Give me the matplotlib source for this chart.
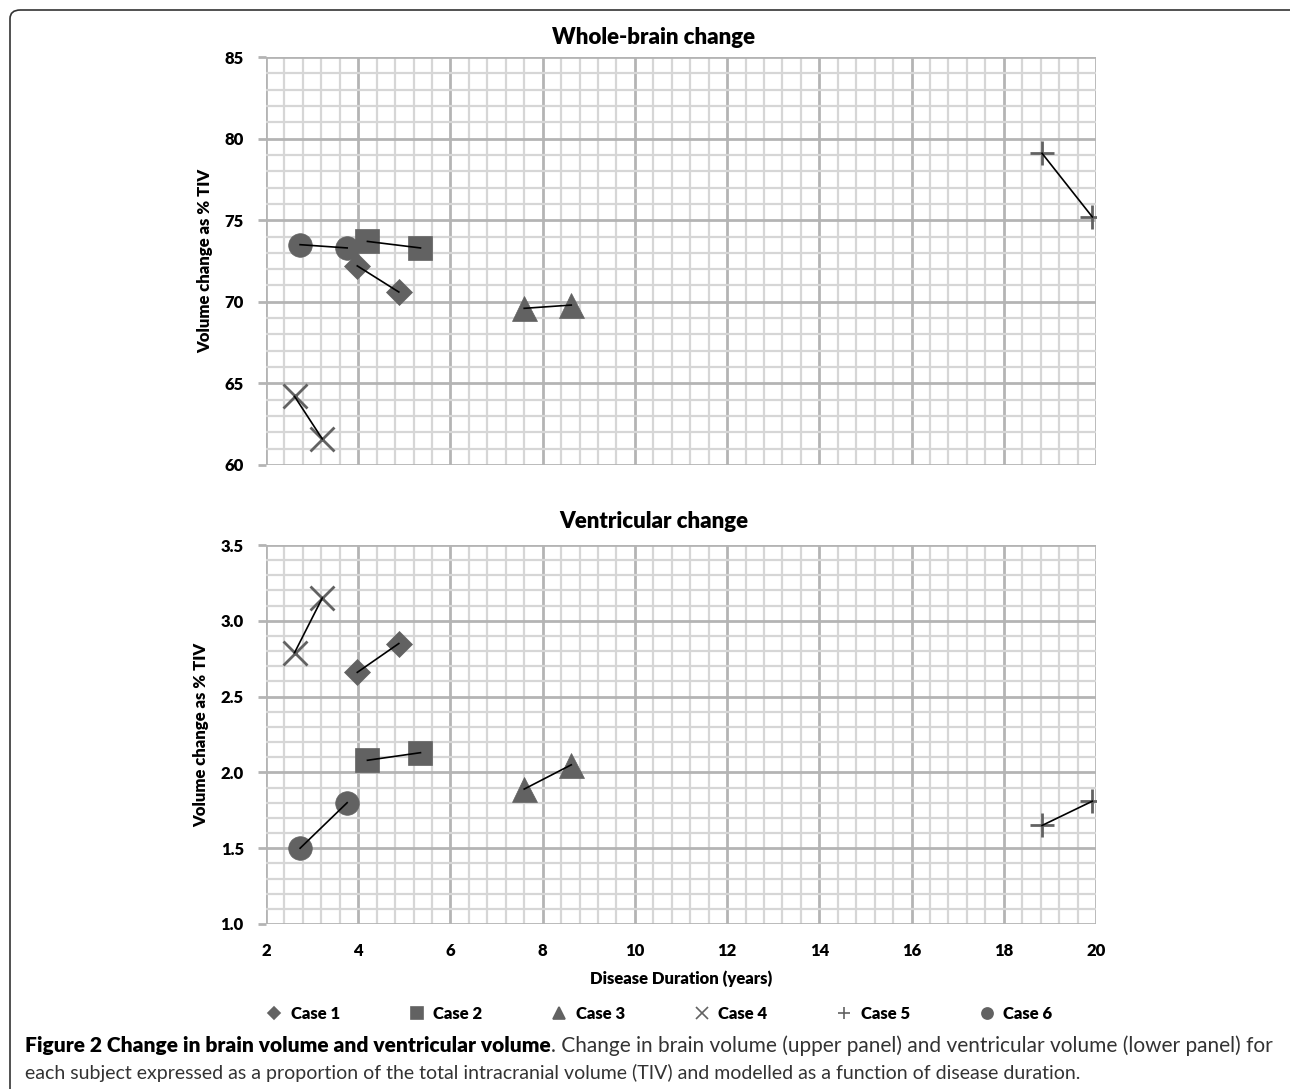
import matplotlib
matplotlib.use("Agg")
import matplotlib.pyplot as plt
from matplotlib.patches import FancyBboxPatch
from matplotlib.lines import Line2D
from matplotlib.ticker import MultipleLocator

plt.rcParams["font.family"] = ["Lato", "DejaVu Sans"]
plt.rcParams["font.weight"] = "heavy"
plt.rcParams["axes.labelweight"] = "heavy"

# disease duration (years), two time points per case
cases = ["Case 1", "Case 2", "Case 3", "Case 4", "Case 5", "Case 6"]
duration = {
    "Case 1": [3.98, 4.88],
    "Case 2": [4.20, 5.35],
    "Case 3": [7.60, 8.62],
    "Case 4": [2.62, 3.22],
    "Case 5": [18.83, 19.92],
    "Case 6": [2.74, 3.76],
}
# whole-brain volume as % TIV
brain = {
    "Case 1": [72.2, 70.6],
    "Case 2": [73.7, 73.3],
    "Case 3": [69.6, 69.8],
    "Case 4": [64.2, 61.6],
    "Case 5": [79.1, 75.2],
    "Case 6": [73.5, 73.3],
}
# ventricular volume as % TIV
ventricle = {
    "Case 1": [2.66, 2.85],
    "Case 2": [2.08, 2.13],
    "Case 3": [1.89, 2.05],
    "Case 4": [2.79, 3.15],
    "Case 5": [1.65, 1.81],
    "Case 6": [1.50, 1.80],
}

markers = {"Case 1": "D", "Case 2": "s", "Case 3": "^",
           "Case 4": "x", "Case 5": "+", "Case 6": "o"}
msize = {"Case 1": 13, "Case 2": 17, "Case 3": 18,
         "Case 4": 17, "Case 5": 17, "Case 6": 17}
mcolor = "#626262"

W, H = 1290, 1089
fig = plt.figure(figsize=(W / 100, H / 100), dpi=100)

# frame around figure
fig.patches.append(FancyBboxPatch((10 / W, -0.05), 1.2, 1 - 10 / H + 0.05,
                                  boxstyle="round,pad=0,rounding_size=0.008",
                                  transform=fig.transFigure, fill=False,
                                  edgecolor="#333333", linewidth=1.2))


def panel(ax, data, title, title_y, ylim, major, minor, fmt):
    for c in cases:
        ax.plot(duration[c], data[c], linestyle="none", marker=markers[c],
                ms=msize[c], color=mcolor, mec=mcolor,
                mew=2.0 if markers[c] in "x+" else 0.5, zorder=3)
        ax.plot(duration[c], data[c], color="black", lw=1.2, zorder=4)
    ax.set_xlim(2, 20)
    ax.set_ylim(*ylim)
    ax.xaxis.set_major_locator(MultipleLocator(2))
    ax.xaxis.set_minor_locator(MultipleLocator(0.4))
    ax.yaxis.set_major_locator(MultipleLocator(major))
    ax.yaxis.set_minor_locator(MultipleLocator(minor))
    ax.yaxis.set_major_formatter(fmt)
    ax.grid(which="major", color="#b4b4b4", lw=2.0)
    ax.grid(which="minor", color="#d6d6d6", lw=1.6)
    ax.set_axisbelow(True)
    for s in ax.spines.values():
        s.set_visible(False)
    ax.tick_params(which="both", length=0, labelsize=12)
    ax.tick_params(axis="y", which="major", length=6, color="#b4b4b4", width=2, pad=10)
    fig.text(654 / W, 1 - title_y / H, title, fontsize=16, fontweight="heavy",
             ha="center", va="center")
    ax.set_ylabel("Volume change as % TIV", fontsize=12, labelpad=8)


ax1 = fig.add_axes([266 / W, 1 - 465 / H, 830 / W, 408 / H])
ax2 = fig.add_axes([266 / W, 1 - 924 / H, 830 / W, 379 / H])

panel(ax1, brain, "Whole-brain change", 37, (60, 85), 5, 1, "{x:.0f}")
ax1.tick_params(axis="x", labelbottom=False)
panel(ax2, ventricle, "Ventricular change", 521, (1.0, 3.5), 0.5, 0.1, "{x:.1f}")
ax2.tick_params(axis="x", pad=14)
ax2.set_xlabel("Disease Duration (years)", fontsize=12, labelpad=8)

handles = [Line2D([], [], linestyle="none", marker=markers[c], color=mcolor,
                  ms=8 if markers[c] != "D" else 6, mew=1.2) for c in cases]
fig.legend(handles, cases, loc="center", bbox_to_anchor=(0.511, 1 - 1014 / H),
           ncol=6, frameon=False, columnspacing=4.1, handletextpad=0.5,
           handlelength=1.0, prop={"weight": "heavy", "size": 12})

# caption: bold lead-in, then plain text sized to reach the right margin
cap_left, cap_right = 25, 1278
bold_part = "Figure 2 Change in brain volume and ventricular volume"
plain_part = ". Change in brain volume (upper panel) and ventricular volume (lower panel) for"
base = 1 - 1052 / H
fig.canvas.draw()
r = fig.canvas.get_renderer()
tb = fig.text(cap_left / W, base, bold_part, fontsize=15, fontweight="heavy",
              color="black", va="baseline")
bx = tb.get_window_extent(r).x1
tp = fig.text(bx / W, base, plain_part, fontsize=14, fontweight="normal",
              color="#333333", va="baseline")
pw = tp.get_window_extent(r).width
tp.set_fontsize(14 * (cap_right - bx) / pw)
fig.text(cap_left / W, 1 - 1079 / H,
         "each subject expressed as a proportion of the total intracranial volume (TIV) and modelled as a function of disease duration.",
         fontsize=14, fontweight="normal", va="baseline", color="#333333")

fig.savefig("out.png", dpi=100)
